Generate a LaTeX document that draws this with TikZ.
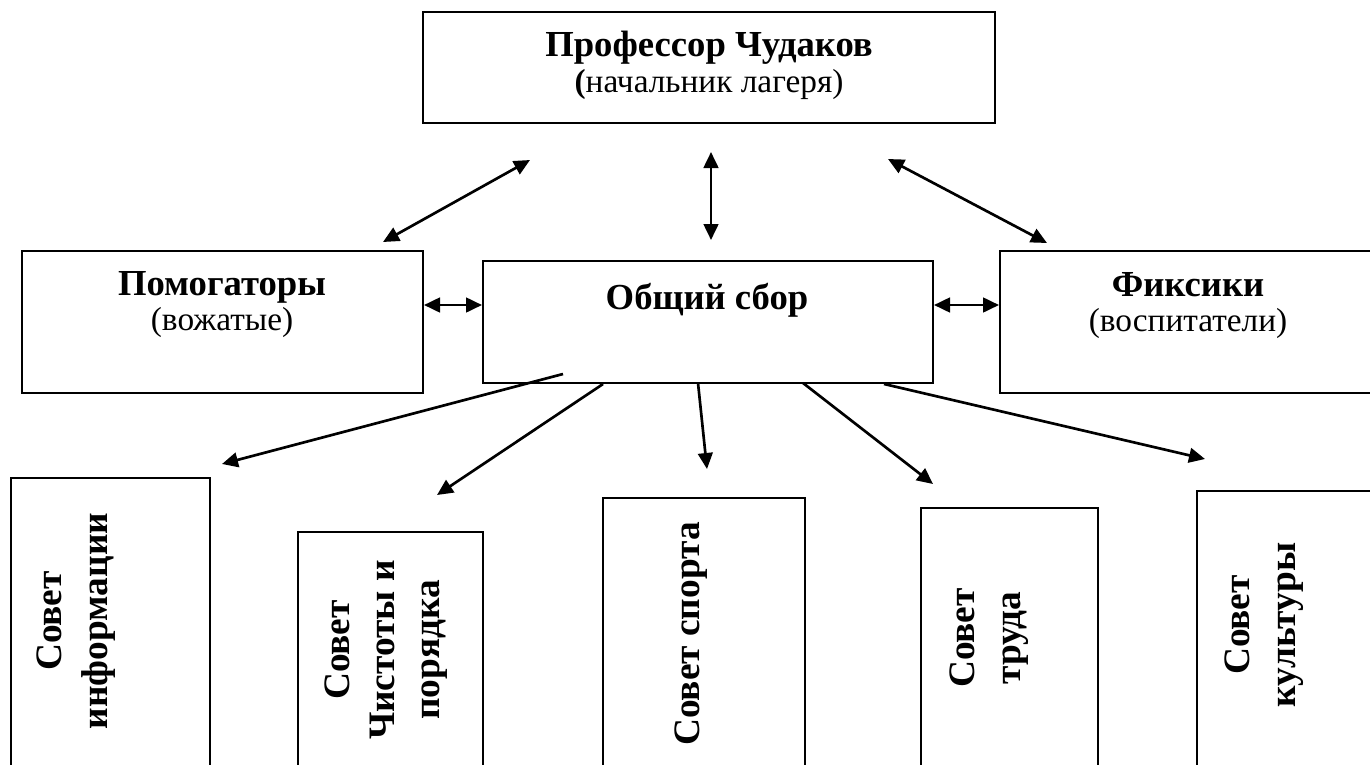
\documentclass[tikz,border=0pt]{standalone}
\usepackage{fontspec}
\setmainfont{Liberation Serif}
\usetikzlibrary{arrows.meta,fit}
\begin{document}
\begin{tikzpicture}[x=0.75pt,y=-0.75pt,
  box/.style={draw, line width=1.5pt, inner sep=0pt, rectangle},
  lnk/.style={line width=2pt, -{Triangle[length=12pt,width=11pt]}},
  dlnk/.style={line width=2pt, {Triangle[length=12pt,width=11pt]}-{Triangle[length=12pt,width=11pt]}},
  bt/.style={font=\fontsize{27.5}{31}\selectfont\bfseries, inner sep=0pt},
  rt/.style={font=\fontsize{25}{29}\selectfont, inner sep=0pt},
  vt/.style={font=\fontsize{28}{34}\selectfont\bfseries, rotate=90, align=center, inner sep=0pt}]
\useasboundingbox (0,0) rectangle (1370,764);
\clip (0,0) rectangle (1370,764);
% boxes
\node[box, fit={(423,12) (995,123)}] (prof) {};
\node[box, fit={(22,251) (423,393)}] (pom) {};
\node[box, fit={(483,261) (933,383)}] (sbor) {};
\node[box, fit={(1000,251) (1385,393)}] (fix) {};
\node[box, fit={(11,478) (210,790)}] (b1) {};
\node[box, fit={(298,532) (483,790)}] (b2) {};
\node[box, fit={(603,498) (805,790)}] (b3) {};
\node[box, fit={(921,508) (1098,790)}] (b4) {};
\node[box, fit={(1197,491) (1385,790)}] (b5) {};
% texts
\node[bt, anchor=base] (profT) at (709,56) {Профессор Чудаков};
\node[rt, anchor=base] (profS) at (709,92) {\textbf{(}начальник лагеря)};
\node[bt, anchor=base] (pomT) at (222,295) {Помогаторы};
\node[rt, anchor=base] (pomS) at (222,330) {(вожатые)};
\node[bt, anchor=base] (sborT) at (707,309) {Общий сбор};
\node[bt, anchor=base] (fixT) at (1188,296) {Фиксики};
\node[rt, anchor=base] (fixS) at (1188,331) {(воспитатели)};
\node[vt] (t1) at (76,621) {Совет\\информации};
\node[vt] (t2) at (386,650) {Совет\\Чистоты и\\порядка};
\node[vt] (t3) at (691,634) {Совет спорта};
\node[vt] (t4) at (989,638) {Совет\\труда};
\node[vt] (t5) at (1264,625) {Совет\\культуры};
% arrow end points
\coordinate (a1s) at (383,242); \coordinate (a1e) at (530,160);
\coordinate (a2s) at (711,152); \coordinate (a2e) at (711,240);
\coordinate (a3s) at (888,159); \coordinate (a3e) at (1047,243);
\coordinate (d1s) at (563,374); \coordinate (d1e) at (222,464);
\coordinate (d2s) at (603,384); \coordinate (d2e) at (437,495);
\coordinate (d3s) at (698,383); \coordinate (d3e) at (707,469);
\coordinate (d4s) at (803,383); \coordinate (d4e) at (933,484);
\coordinate (d5s) at (884,384); \coordinate (d5e) at (1205,459);
% connectors
\draw[dlnk] (a1s) -- (a1e);
\draw[dlnk] (a2s) -- (a2e);
\draw[dlnk] (a3s) -- (a3e);
\draw[dlnk] (pom.east |- 0,305) -- (sbor.west |- 0,305);
\draw[dlnk] (sbor.east |- 0,305) -- (fix.west |- 0,305);
\draw[lnk] (d1s) -- (d1e);
\draw[lnk] (d2s) -- (d2e);
\draw[lnk] (d3s) -- (d3e);
\draw[lnk] (d4s) -- (d4e);
\draw[lnk] (d5s) -- (d5e);
\end{tikzpicture}
\end{document}
